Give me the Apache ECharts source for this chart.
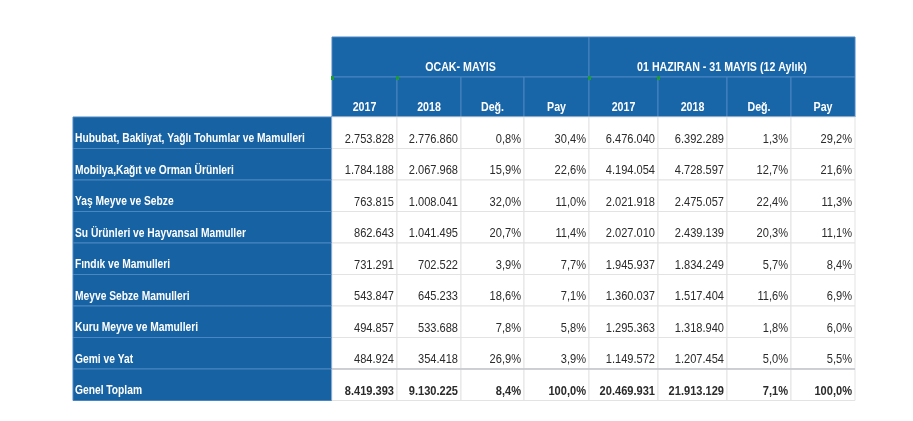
<!DOCTYPE html>
<html>
<head>
<meta charset="utf-8">
<script src="https://cdn.jsdelivr.net/npm/echarts@6/dist/echarts.min.js"></script>
<style>
html,body{margin:0;padding:0;background:#fff;}
#c{width:913px;height:421px;}
</style>
</head>
<body>
<div id="c"></div>
<script>
// ---- data ----
var categories = ["Hububat, Bakliyat, Yağlı Tohumlar ve Mamulleri", "Mobilya,Kağıt ve Orman Ürünleri", "Yaş Meyve ve Sebze", "Su Ürünleri ve Hayvansal Mamuller", "Fındık ve Mamulleri", "Meyve Sebze Mamulleri", "Kuru Meyve ve Mamulleri", "Gemi ve Yat", "Genel Toplam"];
var groupTitles = ["OCAK- MAYIS", "01 HAZIRAN - 31 MAYIS (12 Aylık)"];
var columnTitles = ["2017", "2018", "Değ.", "Pay", "2017", "2018", "Değ.", "Pay"];
var ocak2017 = [2753828, 1784188, 763815, 862643, 731291, 543847, 494857, 484924, 8419393];
var ocak2018 = [2776860, 2067968, 1008041, 1041495, 702522, 645233, 533688, 354418, 9130225];
var ocakDeg = [0.8, 15.9, 32.0, 20.7, 3.9, 18.6, 7.8, 26.9, 8.4];
var ocakPay = [30.4, 22.6, 11.0, 11.4, 7.7, 7.1, 5.8, 3.9, 100.0];
var yil2017 = [6476040, 4194054, 2021918, 2027010, 1945937, 1360037, 1295363, 1149572, 20469931];
var yil2018 = [6392289, 4728597, 2475057, 2439139, 1834249, 1517404, 1318940, 1207454, 21913129];
var yilDeg = [1.3, 12.7, 22.4, 20.3, 5.7, 11.6, 1.8, 5.0, 7.1];
var yilPay = [29.2, 21.6, 11.3, 11.1, 8.4, 6.9, 6.0, 5.5, 100.0];

// ---- layout (axis units) ----
var colEdges = [0, 259, 324, 388, 451, 516, 585, 654, 718, 782];
var headH = 40, rowH = 31.5;

function fmtInt(v) {
  return String(v).replace(/\B(?=(\d{3})+(?!\d))/g, '.');
}
function fmtPct(v) {
  return v.toFixed(1).replace('.', ',') + '%';
}

var numCols = [
  {arr: ocak2017, f: fmtInt}, {arr: ocak2018, f: fmtInt}, {arr: ocakDeg, f: fmtPct}, {arr: ocakPay, f: fmtPct},
  {arr: yil2017, f: fmtInt}, {arr: yil2018, f: fmtInt}, {arr: yilDeg, f: fmtPct}, {arr: yilPay, f: fmtPct}
];

// cells: [x0, x1, y0, y1, kind, text, mark]
var cells = [];
cells.push([colEdges[1], colEdges[5], 0, headH, 'group', groupTitles[0], 0]);
cells.push([colEdges[5], colEdges[9], 0, headH, 'group', groupTitles[1], 0]);
for (var c = 0; c < 8; c++) {
  var mk = (c === 0 || c === 1 || c === 4 || c === 5) ? 1 : 0;
  cells.push([colEdges[c + 1], colEdges[c + 2], headH, 2 * headH, 'col', columnTitles[c], mk]);
}
var last = categories.length - 1;
for (var r = 0; r < categories.length; r++) {
  var y0 = 2 * headH + r * rowH, y1 = y0 + rowH;
  cells.push([colEdges[0], colEdges[1], y0, y1, 'label', categories[r], 0]);
  for (var c2 = 0; c2 < 8; c2++) {
    cells.push([colEdges[c2 + 1], colEdges[c2 + 2], y0, y1, r === last ? 'total' : 'num', numCols[c2].f(numCols[c2].arr[r]), 0]);
  }
}

var FONT = "'Liberation Sans',Arial,sans-serif";
var NARROW = 0.82;
var BLUE_H = '#1865a8', BLUE_L = '#1662a3', LINE_B = '#4a86c2', LINE_G = '#e3e3e3';

function renderItem(params, api) {
  var p0 = api.coord([api.value(0), api.value(2)]);
  var p1 = api.coord([api.value(1), api.value(3)]);
  var kind = cells[params.dataIndex][4];
  var text = cells[params.dataIndex][5];
  var mark = cells[params.dataIndex][6];
  var x = p0[0], y = p0[1], w = p1[0] - p0[0], h = p1[1] - p0[1];
  var children = [];
  var fill = '#fff', stroke = LINE_G;
  if (kind === 'group' || kind === 'col') { fill = BLUE_H; stroke = LINE_B; }
  if (kind === 'label') { fill = BLUE_L; stroke = LINE_B; }
  children.push({type: 'rect', shape: {x: x, y: y, width: w, height: h},
    style: {fill: fill, stroke: stroke, lineWidth: 1}, z2: 0});
  if (kind === 'total') {
    children.push({type: 'line', shape: {x1: x, y1: y, x2: x + w, y2: y},
      style: {stroke: '#c3c3cc', lineWidth: 1.5}, z2: 5});
  }
  var tx, ty, align, font, col;
  if (kind === 'group' || kind === 'col') {
    tx = x + w / 2; ty = y + h - 9.5; align = 'center';
    font = 'bold 13px ' + FONT; col = '#fff';
  } else if (kind === 'label') {
    tx = x + 2; ty = y + h - 9.5; align = 'left';
    font = 'bold 12.5px ' + FONT; col = '#fff';
  } else {
    tx = x + w - 3; ty = y + h - 9.5; align = 'right';
    font = (kind === 'total' ? 'bold ' : '') + '13.5px ' + FONT; col = '#2b2b2b';
  }
  children.push({type: 'text', z2: 10, x: tx, y: ty, scaleX: NARROW, scaleY: 1,
    style: {text: text, x: 0, y: 0, align: align, textAlign: align,
    verticalAlign: 'middle', textVerticalAlign: 'middle', font: font, fill: col}});
  if (mark) {
    children.push({type: 'rect', z2: 11, shape: {x: x - 1, y: y - 1, width: 3, height: 4},
      style: {fill: '#1f9a3a'}});
  }
  return {type: 'group', children: children};
}

var chart = echarts.init(document.getElementById('c'), null, {renderer: 'canvas'});
chart.setOption({
  animation: false,
  grid: {left: 73, top: 37, width: 782, height: 363.5},
  xAxis: {type: 'value', min: 0, max: 782, show: false},
  yAxis: {type: 'value', min: 0, max: 363.5, inverse: true, show: false},
  series: [{
    type: 'custom',
    renderItem: renderItem,
    clip: false,
    data: cells.map(function (d) { return [d[0], d[1], d[2], d[3]]; }),
    encode: {x: [0, 1], y: [2, 3]},
    silent: true
  }]
});
</script>
</body>
</html>
